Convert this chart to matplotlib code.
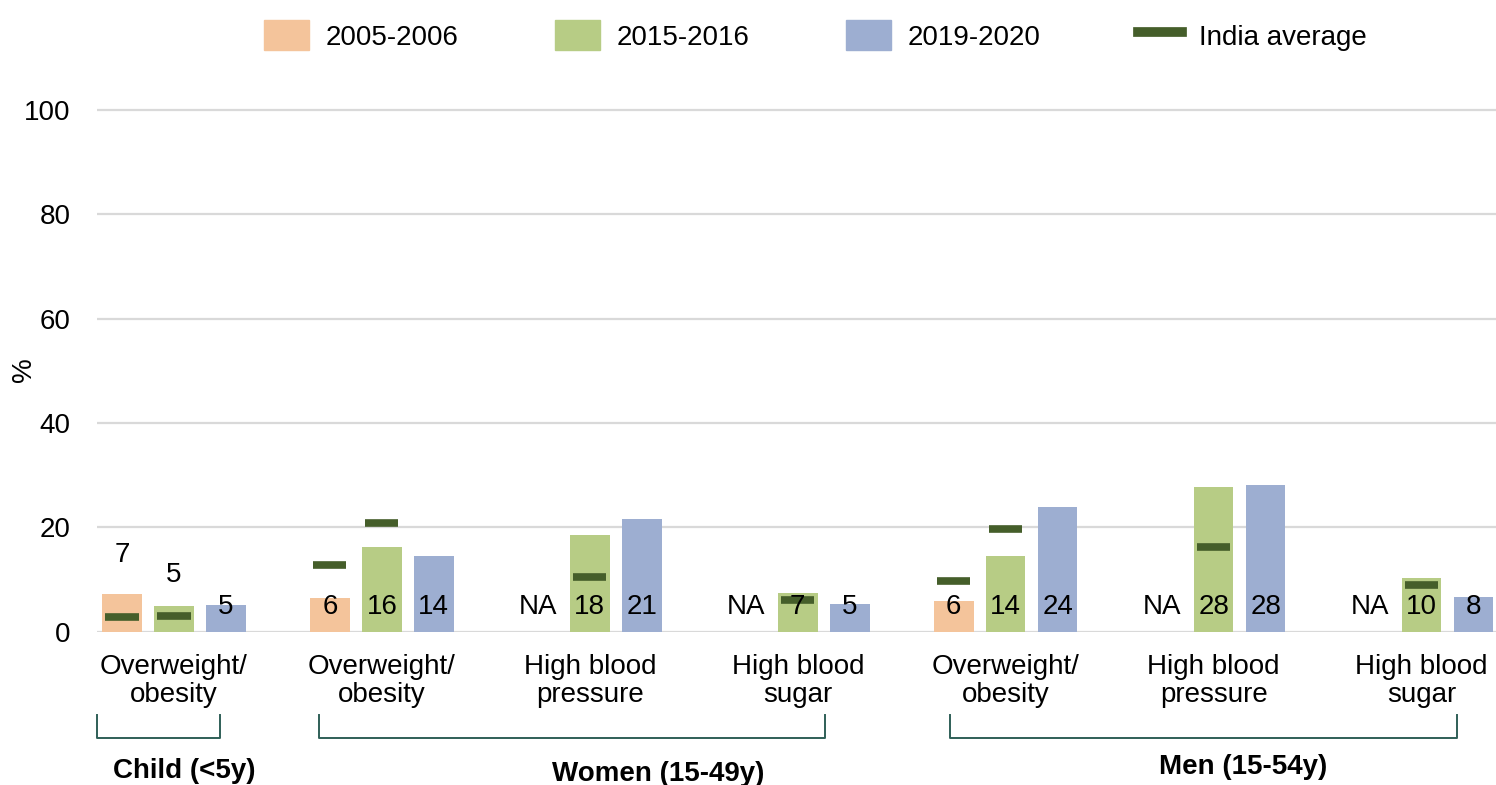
import numpy as np
import matplotlib
matplotlib.use("Agg")
import matplotlib.pyplot as plt
from matplotlib.patches import Patch
from matplotlib.lines import Line2D
import matplotlib.transforms as mtransforms

plt.rcParams['font.family'] = ['Liberation Sans', 'DejaVu Sans']

# data
categories = ["Overweight/\nobesity", "Overweight/\nobesity", "High blood\npressure",
              "High blood\nsugar", "Overweight/\nobesity", "High blood\npressure",
              "High blood\nsugar"]
series_names = ["2005-2006", "2015-2016", "2019-2020"]
v2005 = [7.2, 6.4, None, None, 5.9, None, None]
v2015 = [5.0, 16.2, 18.5, 7.4, 14.5, 27.7, 10.3]
v2019 = [5.1, 14.5, 21.6, 5.3, 24.0, 28.1, 6.7]
lab2005 = ["7", "6", "NA", "NA", "6", "NA", "NA"]
lab2015 = ["5", "16", "18", "7", "14", "28", "10"]
lab2019 = ["5", "14", "21", "5", "24", "28", "8"]
india2005 = [2.9, 12.8, None, None, 9.7, None, None]
india2015 = [3.0, 20.8, 10.5, 6.1, 19.7, 16.2, 9.0]
groups = ["Child (<5y)", "Women (15-49y)", "Men (15-54y)"]

colors = ["#F4C49B", "#B7CC85", "#9DAED1"]
avg_color = "#455E2A"
bracket_color = "#2F5F57"
fs = 20

fig = plt.figure(figsize=(14.96, 7.85), dpi=100)
ax = fig.add_axes([0.0648, 0.195, 0.935, 0.6674])

x = np.arange(len(categories))
off = 0.25
w = 0.19
all_vals = [v2005, v2015, v2019]
all_labs = [lab2005, lab2015, lab2019]
# label heights that differ from the usual in-bar position
label_y = {(0, 0): 14.7, (1, 0): 10.9}

for s, (vals, labs) in enumerate(zip(all_vals, all_labs)):
    xs = x + (s - 1) * off
    h = [v if v is not None else 0 for v in vals]
    ax.bar(xs, h, width=w, color=colors[s], zorder=2)
    for i, lab in enumerate(labs):
        ax.text(xs[i], label_y.get((s, i), 4.7), lab, ha='center', va='center',
                fontsize=fs, color='black', zorder=5)

for s, avg in enumerate([india2005, india2015]):
    for i, v in enumerate(avg):
        if v is None:
            continue
        xc = x[i] + (s - 1) * off
        ax.hlines(v, xc - 0.08, xc + 0.08, color=avg_color, lw=5.5, zorder=3)

ax.set_ylim(0, 100.3)
ax.set_xlim(-0.37, 6.356)
ax.set_yticks(range(0, 101, 20))
ax.yaxis.grid(True, color='#D9D9D9', lw=1.6, zorder=0)
ax.set_axisbelow(True)
for sp in ax.spines.values():
    sp.set_visible(False)
ax.tick_params(axis='both', length=0, labelsize=fs)
ax.tick_params(axis='y', pad=19)
ax.tick_params(axis='x', pad=16)
ax.set_xticks(x)
ax.set_xticklabels(categories, linespacing=1.1)
ax.set_ylabel('%', fontsize=fs)
ax.yaxis.set_label_coords(-0.043, 0.5)

# group brackets under the category labels
trans = mtransforms.blended_transform_factory(ax.transData, ax.transAxes)
bracket_x = [(-0.37, 0.22), (0.70, 3.13), (3.73, 6.17)]
label_x = [0.05, 2.33, 5.14]
label_dy = [-0.265, -0.271, -0.258]
for (x0, x1), gx, gy, g in zip(bracket_x, label_x, label_dy, groups):
    ax.plot([x0, x0, x1, x1], [-0.158, -0.203, -0.203, -0.158], color=bracket_color,
            lw=1.4, transform=trans, clip_on=False)
    ax.text(gx, gy, g, transform=trans, ha='center', va='center',
            fontsize=fs, fontweight='bold')

handles = [Patch(color=c) for c in colors]
handles.append(Line2D([0], [0], color=avg_color, lw=7))
fig.legend(handles, series_names + ["India average"], loc='center', ncol=4,
           bbox_to_anchor=(0.545, 0.955), frameon=False, fontsize=fs,
           handlelength=1.6, handleheight=1.3, handletextpad=0.6, columnspacing=3.5)

fig.savefig("out.png", dpi=100)
